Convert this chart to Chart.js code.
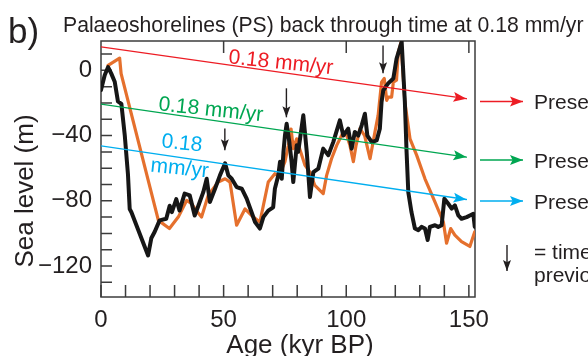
<!DOCTYPE html>
<html>
<head>
    <title>Palaeoshorelines</title>
    <script src="https://cdn.jsdelivr.net/npm/chart.js"></script>
    <style>
        body { margin: 0; background: #fff; }
        #wrap { width: 588px; height: 356px; }
    </style>
</head>
<body>
<div id="wrap"><canvas id="slChart" width="588" height="356"></canvas></div>
<script>
// sea-level curves (age in kyr BP, sea level in m)
const ageBlack = [0, 1.5, 2.9, 4.2, 5.6, 6.9, 8.3, 9.7, 11, 11.7, 12.4, 19.2, 20.5, 21.9, 23.9, 26.6, 28, 28.9,
    30.7, 32, 34.1, 36.2, 38.2, 39.7, 41.7, 43.1, 44.4, 46.5, 48.5, 50.6, 51.9, 53.3, 55.3, 57.4, 59.4, 61.4,
    62.8, 64.8, 66.2, 68.2, 70.2, 70.9, 72.3, 73, 73.7, 74.4, 75, 75.7, 76.8, 77.7, 78.4, 79.8, 80.4, 82.5,
    83.9, 85.2, 86.6, 88.6, 90.6, 92.7, 94.7, 97.4, 98.8, 100.8, 102.2, 103.5, 104.9, 106.3, 107.6, 108.6,
    110.4, 112.4, 113.7, 114.4, 115.1, 116.5, 117.1, 119.2, 120.5, 122.6, 123.9, 124.6, 125.3, 126.6, 128,
    129.4, 130.7, 132.1, 133.2, 134.1, 136.2, 137.5, 138.9, 140, 141.6, 143, 144.3, 145.7, 147, 149.1, 150.4,
    151.8, 152.4];
const seaBlack = [-12, -3, 2, -2, -7, -19, -20.5, -40, -64, -85, -87, -113.5, -103, -99, -92, -91, -83, -87,
    -79, -86, -75.6, -76.7, -89, -83, -74.7, -66.5, -80.8, -72.6, -64.4, -57, -64.4, -66.5, -71.6, -72.6, -78.7, -87,
    -93, -97, -90, -86, -84, -72.6, -64.4, -56, -66.5, -50, -40, -32.7, -44, -56, -68.5, -46, -50, -27.6,
    -50, -77.7, -62.4, -60.3, -48, -52, -44, -30.7, -40, -35.8, -48, -37.8, -40, -33.7, -26.6, -40,
    -44, -43, -35.8, -19.4, -12.3, -9.2, -8, -5, 7, 17.5, -19.4, -50, -74.7, -87, -97,
    -98, -96, -97, -104, -96, -95, -96, -95, -78.7, -81.8, -84.8, -82.8, -89, -91, -90, -89,
    -88, -96];

const ageOrange = [2.9, 7.6, 8.2, 23.4, 27.9, 31.5, 34.9, 37, 38.3, 41, 43.7, 47.8, 50.6, 52.6, 55.3, 58.7,
    62.1, 64.8, 68.2, 70.9, 72.5, 75, 76.4, 77.5, 78.4, 79.8, 81, 83.2, 85.2, 87.2, 90.6, 92, 94, 96.1, 98.8,
    100.2, 101.5, 102.9, 104, 105.6, 107.5, 109.7, 111.7, 113, 114.4, 115.5, 116.5, 117.1, 118.5, 119.2, 120.5,
    121.2, 122.3, 123.9, 126, 128.7, 132.1, 136.2, 139.6, 140.9, 142.6, 144.3, 147, 150.4, 152.4];
const seaOrange = [3, 7.5, -2, -92, -97, -90, -79.8, -81.8, -85, -90, -76.7, -68.5, -66.5, -68.5, -95, -85,
    -90, -93, -68.5, -63.4, -65, -56, -46, -36, -48, -42, -48, -58.3, -62.4, -70.6, -75.6, -64.4, -54.2, -46, -37.8,
    -40, -46, -56, -46, -35.8, -40, -54.2, -37.8, -27.6, -7.2, -5, -18.4, -16.4, -16.4, -7.2, -6,
    11, 17, -19.4, -42, -52, -66.5, -80.8, -93, -106, -97, -101, -105, -108, -99];

// palaeoshoreline lines: sea level at the start and end age
const psAge = [0, 149];
const psRed = [14.4, -17.4];
const psGreen = [-20.7, -53.2];
const psBlue = [-46.3, -79.2];

// down arrows over the highstands
const arrowAge = [50.5, 75.6, 115];
const arrowFrom = [-35.6, -11, 15.3];
const arrowTo = [-49, -28.8, -1.8];

const xLabels = [0, 50, 100, 150];
const yLabels = [0, -40, -80, -120];

const FONT = '"Liberation Sans", Arial, Helvetica, sans-serif';
const INK = '#231f20';
const RED = '#ed1c24';
const GREEN = '#00a651';
const BLUE = '#00aeef';
const ORANGE = '#e5702d';

Chart.defaults.font.family = FONT;
Chart.defaults.color = INK;

const pts = (xs, ys) => xs.map((x, i) => ({ x: x, y: ys[i] }));

// tick every 10 units between lo and hi
const tens = (lo, hi) => {
    const out = [];
    for (let v = Math.ceil(lo / 10) * 10; v <= hi; v += 10) out.push({ value: v });
    return out;
};

function head(ctx, x, y, ang, len, half, color) {
    ctx.save();
    ctx.translate(x, y);
    ctx.rotate(ang);
    ctx.beginPath();
    ctx.moveTo(0, 0);
    ctx.lineTo(-len, -half);
    ctx.lineTo(-len * 0.8, 0);
    ctx.lineTo(-len, half);
    ctx.closePath();
    ctx.fillStyle = color;
    ctx.fill();
    ctx.restore();
}

function arrow(ctx, x0, y0, x1, y1, color, w, len, half) {
    ctx.save();
    ctx.strokeStyle = color;
    ctx.lineWidth = w;
    ctx.beginPath();
    ctx.moveTo(x0, y0);
    ctx.lineTo(x1, y1);
    ctx.stroke();
    ctx.restore();
    head(ctx, x1, y1, Math.atan2(y1 - y0, x1 - x0), len, half, color);
}

function txt(ctx, s, x, y, size, color, ang, align) {
    ctx.save();
    ctx.translate(x, y);
    ctx.rotate(ang || 0);
    ctx.font = size + 'px ' + FONT;
    ctx.fillStyle = color;
    ctx.textAlign = align || 'left';
    ctx.textBaseline = 'alphabetic';
    ctx.fillText(s, 0, 0);
    ctx.restore();
}

// frame with inward ticks, arrows and annotations
const frame = {
    id: 'frame',
    beforeDatasetsDraw(chart) {
        const { ctx, chartArea: a, scales: { x, y } } = chart;
        ctx.save();
        ctx.strokeStyle = '#3c3c3c';
        ctx.lineWidth = 1.5;
        ctx.strokeRect(a.left, a.top, a.right - a.left, a.bottom - a.top);
        ctx.beginPath();
        x.ticks.forEach(t => {
            const px = x.getPixelForValue(t.value);
            ctx.moveTo(px, a.bottom);
            ctx.lineTo(px, a.bottom - 12);
            if (t.value % 50 === 0 && t.value > 0) {
                ctx.moveTo(px, a.top);
                ctx.lineTo(px, a.top + 12);
            }
        });
        y.ticks.forEach(t => {
            const py = y.getPixelForValue(t.value);
            ctx.moveTo(a.left, py);
            ctx.lineTo(a.left + 11, py);
        });
        ctx.stroke();
        ctx.restore();
    },
    afterDatasetsDraw(chart) {
        const { ctx, chartArea: a, scales: { x, y } } = chart;
        const ang = 0.105;

        // arrowheads at the end of each PS line
        [[psRed, RED], [psGreen, GREEN], [psBlue, BLUE]].forEach(([sea, c]) => {
            const x0 = x.getPixelForValue(psAge[0]), y0 = y.getPixelForValue(sea[0]);
            const x1 = x.getPixelForValue(psAge[1]), y1 = y.getPixelForValue(sea[1]);
            head(ctx, x1, y1, Math.atan2(y1 - y0, x1 - x0), 13, 5, c);
        });

        // rate labels along the lines
        txt(ctx, '0.18 mm/yr', x.getPixelForValue(51.8), y.getPixelForValue(4.3), 21, RED, ang);
        txt(ctx, '0.18 mm/yr', x.getPixelForValue(23.2), y.getPixelForValue(-24.5), 21, GREEN, ang);
        txt(ctx, '0.18', x.getPixelForValue(24.5), y.getPixelForValue(-47.2), 21, BLUE, ang);
        txt(ctx, 'mm/yr', x.getPixelForValue(20), y.getPixelForValue(-62), 21, BLUE, ang);

        arrowAge.forEach((age, i) => {
            const px = x.getPixelForValue(age);
            arrow(ctx, px, y.getPixelForValue(arrowFrom[i]), px, y.getPixelForValue(arrowTo[i]), INK, 1.4, 11, 4);
        });

        // key on the right
        const kx = a.right + 5;
        arrow(ctx, kx, 101.5, kx + 43, 101.5, RED, 1.3, 13, 5);
        arrow(ctx, kx, 160, kx + 43, 160, GREEN, 1.3, 13, 5);
        arrow(ctx, kx, 201, kx + 43, 201, BLUE, 1.3, 13, 5);
        txt(ctx, 'Present PS', kx + 54, 109, 21, INK);
        txt(ctx, 'Present PS', kx + 54, 168, 21, INK);
        txt(ctx, 'Present PS', kx + 54, 209, 21, INK);
        arrow(ctx, kx + 27, 245, kx + 27, 271, INK, 1.4, 11, 4);
        txt(ctx, '= time of', kx + 54, 259, 21, INK);
        txt(ctx, 'previous PS', kx + 54, 282, 21, INK);

        // headings and axis titles
        txt(ctx, 'b)', 8, 43, 35, INK);
        txt(ctx, 'Palaeoshorelines (PS) back through time at 0.18 mm/yr', 63, 32, 21.2, INK);
        txt(ctx, 'Sea level (m)', 33, 191, 26, INK, -Math.PI / 2, 'center');
        txt(ctx, 'Age (kyr BP)', 300, 353, 26, INK, 0, 'center');
    }
};

new Chart(document.getElementById('slChart'), {
    type: 'line',
    data: {
        datasets: [
            { label: 'PS red', data: pts(psAge, psRed), borderColor: RED, borderWidth: 1.3 },
            { label: 'PS green', data: pts(psAge, psGreen), borderColor: GREEN, borderWidth: 1.3 },
            { label: 'PS blue', data: pts(psAge, psBlue), borderColor: BLUE, borderWidth: 1.3 },
            { label: 'black', data: pts(ageBlack, seaBlack), borderColor: '#161616', borderWidth: 4 },
            { label: 'orange', data: pts(ageOrange, seaOrange), borderColor: ORANGE, borderWidth: 3.2 }
        ]
    },
    options: {
        responsive: false,
        animation: false,
        layout: { padding: { top: 41, right: 113, left: 0, bottom: 0 } },
        elements: {
            point: { radius: 0 },
            line: { tension: 0, borderJoinStyle: 'round', borderCapStyle: 'round' }
        },
        plugins: { legend: { display: false }, tooltip: { enabled: false } },
        scales: {
            x: {
                type: 'linear', min: 0, max: 152.5,
                grid: { display: false, drawTicks: false },
                border: { display: false },
                afterBuildTicks: s => { s.ticks = tens(0, 152.5); },
                ticks: {
                    autoSkip: false, maxRotation: 0, padding: 9,
                    font: { size: 24 }, color: INK,
                    callback: v => xLabels.includes(v) ? String(v) : ''
                },
                afterFit: s => { s.height = 59; }
            },
            y: {
                type: 'linear', min: -139, max: 18,
                grid: { display: false, drawTicks: false },
                border: { display: false },
                afterBuildTicks: s => { s.ticks = tens(-139, 18); },
                ticks: {
                    autoSkip: false, padding: 9,
                    font: { size: 24 }, color: INK,
                    callback: v => yLabels.includes(v) ? (v < 0 ? '\u2212' + Math.abs(v) : String(v)) : ''
                },
                afterFit: s => { s.width = 101; }
            }
        }
    },
    plugins: [frame]
});
</script>
</body>
</html>
